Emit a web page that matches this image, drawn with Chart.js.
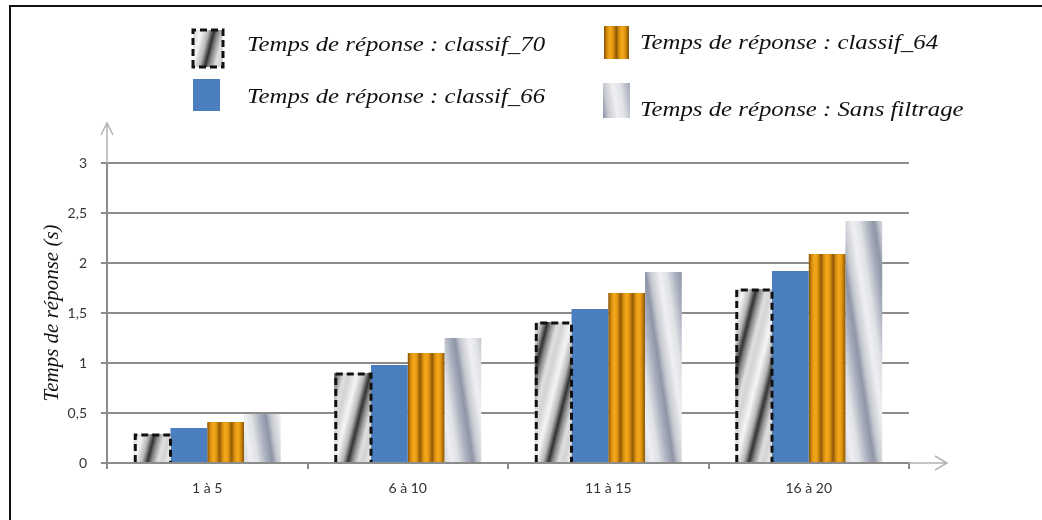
<!DOCTYPE html>
<html>
<head>
<meta charset="utf-8">
<script src="https://cdn.jsdelivr.net/npm/chart.js@4.4.1/dist/chart.umd.min.js"></script>
<style>
    html, body { margin: 0; padding: 0; background: #fff; }
</style>
</head>
<body>
<canvas id="chart" width="1042" height="520"></canvas>
<script>
// data
const categories = ['1 à 5', '6 à 10', '11 à 15', '16 à 20'];
const seriesLabels = [
    'Temps de réponse : classif_70',
    'Temps de réponse : classif_66',
    'Temps de réponse : classif_64',
    'Temps de réponse : Sans filtrage'
];
const classif70 = [0.29, 0.90, 1.41, 1.74];
const classif66 = [0.35, 0.98, 1.54, 1.92];
const classif64 = [0.41, 1.10, 1.70, 2.09];
const sansFiltrage = [0.49, 1.25, 1.91, 2.42];
const yTicks = [0, 0.5, 1, 1.5, 2, 2.5, 3];

const CAT_PCT = 0.733;
const SERIF = '"Liberation Serif", "Times New Roman", serif';
const ctx2d = document.getElementById('chart').getContext('2d');

function hex(c) {
    return [parseInt(c.slice(1, 3), 16), parseInt(c.slice(3, 5), 16), parseInt(c.slice(5, 7), 16)];
}

function makeTile(w, h, phaseFn, stops) {
    const c = document.createElement('canvas');
    c.width = w; c.height = h;
    const g = c.getContext('2d');
    const img = g.createImageData(w, h);
    const st = stops.map(s => [s[0], hex(s[1])]);
    for (let y = 0; y < h; y++) {
        for (let x = 0; x < w; x++) {
            let p = phaseFn(x, y);
            p = p - Math.floor(p);
            let i = 0;
            while (i < st.length - 2 && p > st[i + 1][0]) i++;
            const a = st[i], b = st[i + 1];
            const t = (p - a[0]) / (b[0] - a[0]);
            const k = (y * w + x) * 4;
            for (let j = 0; j < 3; j++) img.data[k + j] = Math.round(a[1][j] + (b[1][j] - a[1][j]) * t);
            img.data[k + 3] = 255;
        }
    }
    g.putImageData(img, 0, 0);
    return c;
}

const tiles = {
    gray: makeTile(36, 144, (x, y) => (x + y * 0.25) / 36, [
        [0, '#d4d4d4'], [0.22, '#f6f6f6'], [0.42, '#b8b8b8'], [0.57, '#303030'],
        [0.68, '#888888'], [0.85, '#e0e0e0'], [1, '#d4d4d4']
    ]),
    orange: makeTile(12, 1, (x) => x / 12, [
        [0, '#8f5a06'], [0.2, '#d48b0c'], [0.45, '#f6aa1c'], [0.7, '#e39710'], [0.9, '#a86b08'], [1, '#8f5a06']
    ]),
    silver: makeTile(36, 240, (x, y) => (x - y * 0.15) / 36, [
        [0, '#c6c9d0'], [0.25, '#f0f0f2'], [0.45, '#e0e2e6'], [0.7, '#a8aebc'],
        [0.86, '#8e95a6'], [1, '#c6c9d0']
    ])
};

function patternAt(name, left, top) {
    const p = ctx2d.createPattern(tiles[name], 'repeat');
    p.setTransform(new DOMMatrix([1, 0, 0, 1, left, top || 0]));
    return p;
}

function barFill(name, fallback) {
    return function (ctx) {
        const xs = ctx.chart.scales && ctx.chart.scales.x;
        if (ctx.type !== 'data' || !xs) return fallback;
        const catW = xs.width / categories.length;
        const barW = catW * CAT_PCT / seriesLabels.length;
        const left = xs.getPixelForValue(ctx.dataIndex) - catW * CAT_PCT / 2 + ctx.datasetIndex * barW;
        return patternAt(name, left, 0);
    };
}

const legendPos = [
    { mx: 193, my: 30, mw: 30, mh: 37, tx: 247, ty: 51 },
    { mx: 193, my: 79, mw: 27, mh: 32, tx: 247, ty: 103 },
    { mx: 604, my: 26, mw: 25, mh: 33, tx: 640, ty: 49 },
    { mx: 603, my: 83, mw: 27, mh: 35, tx: 640, ty: 116 }
];
const legendFills = ['gray', null, 'orange', 'silver'];

function dashedBox(ctx, left, top, right, bottom, closed) {
    ctx.save();
    ctx.setLineDash([7, 4]);
    ctx.lineWidth = 3;
    ctx.strokeStyle = '#111';
    ctx.beginPath();
    ctx.moveTo(left, bottom);
    ctx.lineTo(left, top);
    ctx.lineTo(right, top);
    ctx.lineTo(right, bottom);
    if (closed) ctx.closePath();
    ctx.stroke();
    ctx.restore();
}

const decor = {
    id: 'decor',
    beforeDraw(chart) {
        const ctx = chart.ctx;
        ctx.save();
        ctx.strokeStyle = '#111';
        ctx.lineWidth = 2;
        ctx.beginPath();
        ctx.moveTo(1042, 6);
        ctx.lineTo(10, 6);
        ctx.lineTo(10, 520);
        ctx.stroke();
        ctx.restore();
    },
    afterDatasetsDraw(chart) {
        const meta = chart.getDatasetMeta(0);
        meta.data.forEach(bar => {
            const half = bar.width / 2;
            dashedBox(chart.ctx, bar.x - half + 1.5, bar.y + 1, bar.x + half, bar.base, false);
        });
    },
    afterDraw(chart) {
        const ctx = chart.ctx;
        const a = chart.chartArea;
        ctx.save();
        // axis arrows
        ctx.strokeStyle = '#b4b4b4';
        ctx.lineWidth = 1.5;
        ctx.beginPath();
        ctx.moveTo(a.left, a.top);
        ctx.lineTo(a.left, a.top - 40);
        ctx.moveTo(a.left - 6, a.top - 28);
        ctx.lineTo(a.left, a.top - 40);
        ctx.lineTo(a.left + 6, a.top - 28);
        ctx.moveTo(a.right, a.bottom);
        ctx.lineTo(a.right + 38, a.bottom);
        ctx.moveTo(a.right + 26, a.bottom - 7);
        ctx.lineTo(a.right + 38, a.bottom);
        ctx.lineTo(a.right + 26, a.bottom + 7);
        ctx.stroke();

        // legend
        chart.data.datasets.forEach((ds, i) => {
            const p = legendPos[i];
            ctx.fillStyle = legendFills[i] ? patternAt(legendFills[i], p.mx, p.my) : '#4a7ebf';
            ctx.fillRect(p.mx, p.my, p.mw, p.mh);
            if (i === 0) dashedBox(ctx, p.mx, p.my, p.mx + p.mw, p.my + p.mh, true);
            ctx.save();
            ctx.translate(p.tx, p.ty);
            ctx.scale(1.24, 1);
            ctx.fillStyle = '#111';
            ctx.font = 'italic 20px ' + SERIF;
            ctx.textBaseline = 'alphabetic';
            ctx.fillText(ds.label, 0, 0);
            ctx.restore();
        });
        ctx.restore();
    }
};

function draw() {
    const tickFont = { family: 'Lato, "Open Sans", sans-serif', size: 14 };

    new Chart(ctx2d, {
        type: 'bar',
        data: {
            labels: categories,
            datasets: [
                { label: seriesLabels[0], data: classif70, backgroundColor: barFill('gray', '#cccccc') },
                { label: seriesLabels[1], data: classif66, backgroundColor: '#4a7ebf' },
                { label: seriesLabels[2], data: classif64, backgroundColor: barFill('orange', '#e39710') },
                { label: seriesLabels[3], data: sansFiltrage, backgroundColor: barFill('silver', '#c6c9d0') }
            ]
        },
        options: {
            responsive: false,
            animation: false,
            events: [],
            layout: { padding: { left: 36, top: 163, right: 133, bottom: 25 } },
            datasets: { bar: { categoryPercentage: CAT_PCT, barPercentage: 1, borderWidth: 0 } },
            plugins: { legend: { display: false }, tooltip: { enabled: false } },
            scales: {
                x: {
                    grid: { drawOnChartArea: false, tickLength: 6, color: '#8c8c8c', lineWidth: 2 },
                    border: { color: '#8c8c8c', width: 2 },
                    ticks: { font: tickFont, color: '#333', padding: 11 },
                    afterFit(s) { s.height = 32; }
                },
                y: {
                    min: 0,
                    max: 3,
                    afterBuildTicks(s) { s.ticks = yTicks.map(v => ({ value: v })); },
                    grid: { color: '#8c8c8c', lineWidth: 2, tickLength: 6 },
                    border: { color: '#8c8c8c', width: 2 },
                    ticks: {
                        font: tickFont,
                        color: '#333',
                        padding: 14,
                        callback: v => String(v).replace('.', ',')
                    },
                    title: {
                        display: true,
                        text: 'Temps de réponse (s)',
                        color: '#111',
                        font: { family: SERIF, style: 'italic', size: 21 },
                        padding: { top: 4, bottom: 4 }
                    },
                    afterFit(s) { s.width = 71; }
                }
            }
        },
        plugins: [decor]
    });
}

Promise.all([
    document.fonts.load('italic 20px "Liberation Serif"'),
    document.fonts.load('14px Lato')
]).then(draw, draw);
</script>
</body>
</html>
